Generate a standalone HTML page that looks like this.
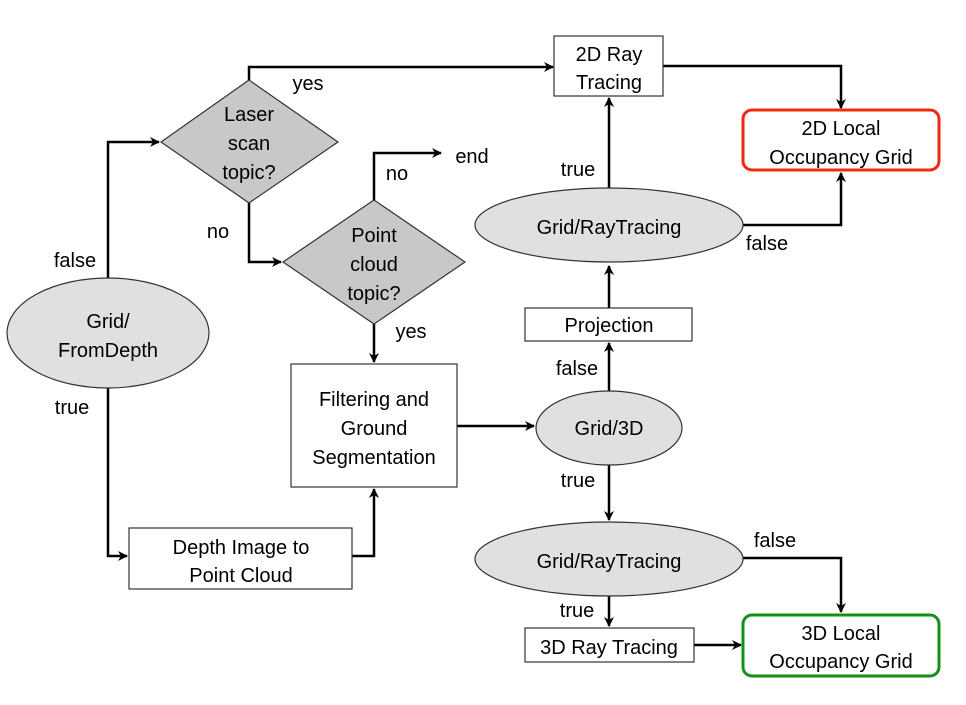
<!DOCTYPE html>
<html><head><meta charset="utf-8"><style>
html,body{margin:0;padding:0;background:#fff;}
svg{display:block;}
text{font-family:"Liberation Sans",sans-serif;font-size:20px;fill:#000;text-anchor:middle;}
</style></head><body>
<svg width="966" height="705" viewBox="0 0 966 705" xmlns="http://www.w3.org/2000/svg">
<defs>
<marker id="a" markerWidth="10" markerHeight="10" refX="9" refY="5" orient="auto" markerUnits="userSpaceOnUse">
<path d="M0,0 L10,5 L0,10 L3,5 Z" fill="#000"/>
</marker>
</defs>
<g fill="none" stroke="#000" stroke-width="2.5">
<polyline points="108,278 108,142 159,142" marker-end="url(#a)"/>
<polyline points="249,80 249,67 553,67" marker-end="url(#a)"/>
<polyline points="249,203 249,262 281,262" marker-end="url(#a)"/>
<polyline points="374,200 374,153 441,153" marker-end="url(#a)"/>
<polyline points="374,324 374,362" marker-end="url(#a)"/>
<polyline points="108,388 108,556 127,556" marker-end="url(#a)"/>
<polyline points="352,556 374,556 374,489" marker-end="url(#a)"/>
<polyline points="457,426 534,426" marker-end="url(#a)"/>
<polyline points="609,391 609,343" marker-end="url(#a)"/>
<polyline points="609,308 609,266" marker-end="url(#a)"/>
<polyline points="609,188 609,98" marker-end="url(#a)"/>
<polyline points="663,66 841,66 841,108" marker-end="url(#a)"/>
<polyline points="743,225 841,225 841,173" marker-end="url(#a)"/>
<polyline points="609,465 609,520" marker-end="url(#a)"/>
<polyline points="609,596 609,626" marker-end="url(#a)"/>
<polyline points="743,558 841,558 841,612" marker-end="url(#a)"/>
<polyline points="694,645 741,645" marker-end="url(#a)"/>
</g>
<g stroke="#333" stroke-width="1.2">
<ellipse cx="108" cy="333" rx="101" ry="55" fill="#e0e0e0"/>
<polygon points="249,80 338,142 249,203 161,142" fill="#c8c8c8"/>
<polygon points="374,200 465,262 374,324 283,262" fill="#c8c8c8"/>
<rect x="291" y="364" width="166" height="123" fill="#fff"/>
<rect x="129" y="528" width="223" height="61" fill="#fff"/>
<ellipse cx="609" cy="428" rx="73" ry="37" fill="#e0e0e0"/>
<rect x="525" y="308" width="167" height="33" fill="#fff"/>
<ellipse cx="609" cy="225" rx="134" ry="37" fill="#e0e0e0"/>
<rect x="554" y="36" width="109" height="60" fill="#fff"/>
<ellipse cx="609" cy="559" rx="134" ry="37" fill="#e0e0e0"/>
<rect x="525" y="628" width="169" height="34" fill="#fff"/>
</g>
<rect x="743" y="110" width="196" height="60" rx="9" fill="#fff" stroke="#f02a10" stroke-width="3"/>
<rect x="743" y="615" width="196" height="61" rx="9" fill="#fff" stroke="#149014" stroke-width="3"/>
<text x="108" y="328">Grid/</text><text x="108" y="357">FromDepth</text>
<text x="249" y="121">Laser</text><text x="249" y="150">scan</text><text x="249" y="179">topic?</text>
<text x="374" y="242">Point</text><text x="374" y="271">cloud</text><text x="374" y="300">topic?</text>
<text x="374" y="406">Filtering and</text><text x="374" y="435">Ground</text><text x="374" y="464">Segmentation</text>
<text x="241" y="554">Depth Image to</text><text x="241" y="582">Point Cloud</text>
<text x="609" y="435">Grid/3D</text>
<text x="609" y="332">Projection</text>
<text x="609" y="234">Grid/RayTracing</text>
<text x="609" y="61">2D Ray</text><text x="609" y="89">Tracing</text>
<text x="841" y="135">2D Local</text><text x="841" y="164">Occupancy Grid</text>
<text x="609" y="568">Grid/RayTracing</text>
<text x="609" y="654">3D Ray Tracing</text>
<text x="841" y="640">3D Local</text><text x="841" y="668">Occupancy Grid</text>
<text x="308" y="90">yes</text>
<text x="218" y="238">no</text>
<text x="75" y="267">false</text>
<text x="72" y="414">true</text>
<text x="397" y="180">no</text>
<text x="472" y="163">end</text>
<text x="411" y="338">yes</text>
<text x="578" y="176">true</text>
<text x="767" y="250">false</text>
<text x="577" y="375">false</text>
<text x="578" y="487">true</text>
<text x="775" y="547">false</text>
<text x="577" y="617">true</text>
</svg>
</body></html>
